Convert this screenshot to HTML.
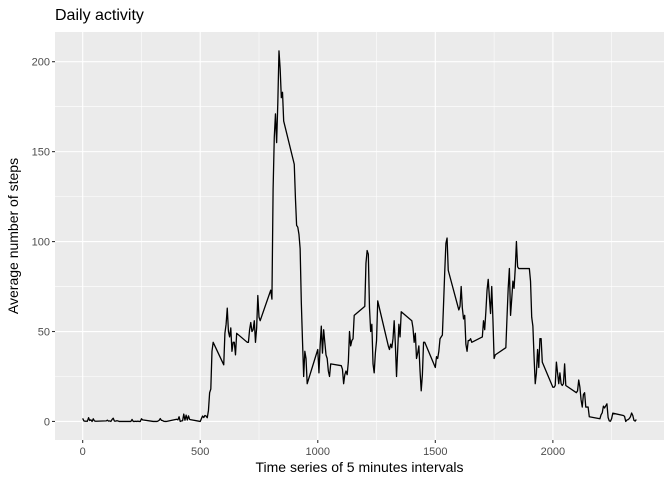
<!DOCTYPE html>
<html><head><meta charset="utf-8"><style>
body{margin:0;background:#fff;font-family:"Liberation Sans",Arial,sans-serif}
svg{display:block}
</style></head><body>
<svg id="chart" width="672" height="480" xmlns="http://www.w3.org/2000/svg">
<text x="55" y="20" font-size="16" fill="#000">Daily activity</text>
<rect x="55" y="32" width="609" height="408" fill="#ebebeb"/>
<g id="grid"></g><g id="axes"></g><g id="series"></g>
<text x="359.5" y="472" font-size="14" text-anchor="middle" fill="#000">Time series of 5 minutes intervals</text>
<text transform="translate(18,236) rotate(-90)" font-size="14" text-anchor="middle" fill="#000">Average number of steps</text>
</svg>
<script>
const intervals=[0,5,10,15,20,25,30,35,40,45,50,55,100,105,110,115,120,125,130,135,140,145,150,155,200,205,210,215,220,225,230,235,240,245,250,255,300,305,310,315,320,325,330,335,340,345,350,355,400,405,410,415,420,425,430,435,440,445,450,455,500,505,510,515,520,525,530,535,540,545,550,555,600,605,610,615,620,625,630,635,640,645,650,655,700,705,710,715,720,725,730,735,740,745,750,755,800,805,810,815,820,825,830,835,840,845,850,855,900,905,910,915,920,925,930,935,940,945,950,955,1000,1005,1010,1015,1020,1025,1030,1035,1040,1045,1050,1055,1100,1105,1110,1115,1120,1125,1130,1135,1140,1145,1150,1155,1200,1205,1210,1215,1220,1225,1230,1235,1240,1245,1250,1255,1300,1305,1310,1315,1320,1325,1330,1335,1340,1345,1350,1355,1400,1405,1410,1415,1420,1425,1430,1435,1440,1445,1450,1455,1500,1505,1510,1515,1520,1525,1530,1535,1540,1545,1550,1555,1600,1605,1610,1615,1620,1625,1630,1635,1640,1645,1650,1655,1700,1705,1710,1715,1720,1725,1730,1735,1740,1745,1750,1755,1800,1805,1810,1815,1820,1825,1830,1835,1840,1845,1850,1855,1900,1905,1910,1915,1920,1925,1930,1935,1940,1945,1950,1955,2000,2005,2010,2015,2020,2025,2030,2035,2040,2045,2050,2055,2100,2105,2110,2115,2120,2125,2130,2135,2140,2145,2150,2155,2200,2205,2210,2215,2220,2225,2230,2235,2240,2245,2250,2255,2300,2305,2310,2315,2320,2325,2330,2335,2340,2345,2350,2355];
const steps=[1.7,0.3,0.1,0.2,0.1,2.1,0.5,0.9,0,1.5,0.3,0.1,0.3,0.7,0.2,0.3,0,1.1,1.8,0.2,0.2,0.4,0.3,0,0,0,1.1,0,0,0.1,0,0.2,0,0,1.5,0.9,0,0,0,0,0.2,0.6,1.6,0.6,0.5,0.1,0,0,1.2,0.9,2.6,0,0.3,0.4,4.1,0.7,3.5,0.8,3.1,1.1,0,1.6,3.0,2.2,3.3,3.0,2.1,6.1,16,18,39,44,31.5,49,54,63,50,47,52,39,44,44,37,49,44,44,51,55,50,51,56,44,52,70,58,56,73,68,129,158,171,155,177,206,196,180,183,167,143,124,109,108,104,96,66,45,25,39,35,21,40,27,42,53,38,51,44,37,35,28,25,32,31,29,21,26,28,26,33,50,42,45,46,59,64,88,95,93,63,50,54,32,27,38,45,67,42,40,43,41,46,56,43,25,40,54,47,61,56,52,44,49,35,38,42,28,17,26,44,44,30,36,35,39,46,47,48,65,83,99,102,84,62,64,75,63,57,59,43,39,45,45,46,44,47,56,51,61,73,79,69,60,75,57,35,37,41,58,74,85,59,68,78,74,85,100,86,85,85,78,58,53,36,21,27,40,30,46,46,33,19,19,20,33,27,21,27,21,20,21,32,20,16,17,23,19,12,8,15,16,8,8,8,2.6,1.5,3.7,4.8,8.5,7.5,8.7,9.8,2.2,0.3,0.1,1.6,4.6,3.3,2.8,0,0.8,1,1.6,2.6,4.7,3.3,0.6,0.2,1.1];
const xTicks=[0,500,1000,1500,2000];
const yTicks=[0,50,100,150,200];
const NS="http://www.w3.org/2000/svg";
const L=55,R=664,T=32,B=440;
const xmin=0-2355*0.05,xmax=2355*1.05,ymin=-206.2*0.05,ymax=206.2*1.05;
const sx=v=>L+(v-xmin)/(xmax-xmin)*(R-L);
const sy=v=>B-(v-ymin)/(ymax-ymin)*(B-T);
function mk(tag,attrs,parent){const e=document.createElementNS(NS,tag);for(const k in attrs)e.setAttribute(k,attrs[k]);parent.appendChild(e);return e;}
const grid=document.getElementById('grid'),axes=document.getElementById('axes');
for(let i=0;i<xTicks.length-1;i++){const m=(xTicks[i]+xTicks[i+1])/2;const g=mk('line',{x1:sx(m),x2:sx(m),y1:T,y2:B,stroke:'#fff','stroke-width':0.55},grid);

}
{const m=2250;const g=mk('line',{x1:sx(m),x2:sx(m),y1:T,y2:B,stroke:'#fff','stroke-width':0.55},grid);

}
for(let i=0;i<yTicks.length-1;i++){const m=(yTicks[i]+yTicks[i+1])/2;const g=mk('line',{x1:L,x2:R,y1:sy(m),y2:sy(m),stroke:'#fff','stroke-width':0.55},grid);

}
xTicks.forEach(t=>{const g=mk('line',{x1:sx(t),x2:sx(t),y1:T,y2:B,stroke:'#fff','stroke-width':1.1},grid);


const tk=mk('line',{x1:sx(t),x2:sx(t),y1:B,y2:B+3,stroke:'#333','stroke-width':1.1},axes);


const tx=mk('text',{x:sx(t),y:B+15,'font-size':11,'text-anchor':'middle',fill:'#4d4d4d'},axes);tx.textContent=t;

});
yTicks.forEach(t=>{const g=mk('line',{x1:L,x2:R,y1:sy(t),y2:sy(t),stroke:'#fff','stroke-width':1.1},grid);


const tk=mk('line',{x1:L-3,x2:L,y1:sy(t),y2:sy(t),stroke:'#333','stroke-width':1.1},axes);


const tx=mk('text',{x:L-5,y:sy(t)+4,'font-size':11,'text-anchor':'end',fill:'#4d4d4d'},axes);tx.textContent=t;

});
const d=intervals.map((v,i)=>(i?'L':'M')+sx(v).toFixed(2)+','+sy(steps[i]).toFixed(2)).join('');
const p=mk('path',{d:d,fill:'none',stroke:'#000','stroke-width':1.3,'stroke-linejoin':'round'},document.getElementById('series'));


</script>
</body></html>
